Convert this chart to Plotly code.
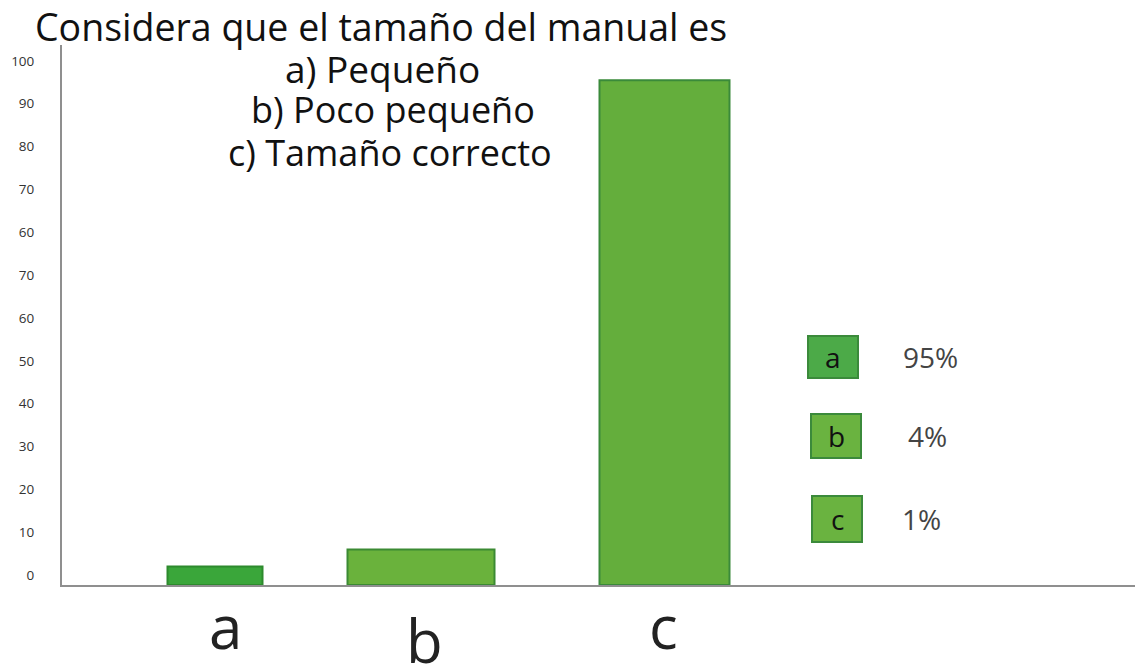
import plotly.graph_objects as go

# Survey answers and their plotted heights
categories = ["a", "b", "c"]
bar_values = [2, 6, 115.5]

# Y axis ticks as printed on the chart
y_tick_values = [0, 10, 20, 30, 40, 50, 60, 70, 80, 90, 100, 110, 120]
y_tick_labels = ["0", "10", "20", "30", "40", "50", "60", "70", "60", "70", "80", "90", "100"]

# Legend entries
legend_letters = ["a", "b", "c"]
legend_percents = ["95%", "4%", "1%"]

title_lines = [
    "Considera que el tamaño del manual es",
    "a) Pequeño",
    "b) Poco pequeño",
    "c) Tamaño correcto",
]

# Layout constants (x in axis units, one unit = 100 px of plot width)
BASELINE = -2.3
bar_centers = [1.53, 3.59, 6.025]
bar_widths = [0.95, 1.47, 1.30]
label_centers = [1.635, 3.62, 6.015]
label_mid_y = [626, 640, 626]
bar_fill = ["#3aa63a", "#6ab23c", "#64ae3c"]
bar_line = ["#2d8a2d", "#3b8a33", "#3a8a3a"]
FONT = "Open Sans"

L, T, W, H = 62, 45, 1073, 540  # plot area in pixels


def px_x(x):
    return (x - L) / W


def px_y(y):
    return (T + H - y) / H


fig = go.Figure()
fig.add_trace(go.Bar(
    x=bar_centers,
    y=[v - BASELINE for v in bar_values],
    base=BASELINE,
    width=bar_widths,
    marker=dict(color=bar_fill, line=dict(color=bar_line, width=2)),
    hoverinfo="skip",
    showlegend=False,
))

fig.update_layout(
    width=1135,
    height=666,
    margin=dict(l=L, r=0, t=T, b=666 - T - H),
    paper_bgcolor="white",
    plot_bgcolor="white",
    font=dict(family=FONT, color="#222"),
    xaxis=dict(
        range=[0, 10.73],
        automargin=False,
        showgrid=False,
        zeroline=False,
        showline=True,
        linecolor="#8f8f8f",
        linewidth=2,
        showticklabels=False,
        ticks="",
    ),
    yaxis=dict(
        range=[BASELINE, 123.7],
        automargin=False,
        showgrid=False,
        zeroline=False,
        showline=True,
        linecolor="#8f8f8f",
        linewidth=2,
        tickmode="array",
        tickvals=y_tick_values,
        ticktext=y_tick_labels,
        tickfont=dict(size=13.5, color="#333", family=FONT),
        ticks="",
        ticklabelstandoff=23,
    ),
)

# Category letters under the bars
for cat, cx, cy in zip(categories, label_centers, label_mid_y):
    fig.add_annotation(
        xref="x", yref="paper",
        x=cx, y=px_y(cy),
        xanchor="center", yanchor="middle",
        text=cat, showarrow=False,
        font=dict(size=60, color="#222", family=FONT),
    )

# Heading, one annotation per line
line_centers_x = [381, 382, 393, 390]
line_centers_y = [27, 68, 110, 153]
line_sizes = [37.5, 37, 36, 36]
for text, cx, cy, size in zip(title_lines, line_centers_x, line_centers_y, line_sizes):
    fig.add_annotation(
        xref="paper", yref="paper",
        x=px_x(cx), y=px_y(cy),
        xanchor="center", yanchor="middle",
        text=text, showarrow=False,
        font=dict(size=size, color="#111", family=FONT),
    )

# Legend boxes with letters and percentages
box_x = [(808, 858), (811, 861), (812, 862)]
box_y = [(336, 378), (414, 458), (496, 542)]
box_fill = ["#4caa48", "#6ab340", "#6ab340"]
pct_x = [930, 927, 921]
for (x0, x1), (y0, y1), fill, letter, pct, px in zip(
        box_x, box_y, box_fill, legend_letters, legend_percents, pct_x):
    fig.add_shape(
        type="rect", xref="paper", yref="paper",
        x0=px_x(x0), x1=px_x(x1),
        y0=px_y(y1), y1=px_y(y0),
        fillcolor=fill, line=dict(color="#3b8a3b", width=2),
    )
    fig.add_annotation(
        xref="paper", yref="paper",
        x=px_x((x0 + x1) / 2), y=px_y((y0 + y1) / 2),
        text=letter, showarrow=False,
        xanchor="center", yanchor="middle",
        font=dict(size=28, color="#111", family=FONT),
    )
    fig.add_annotation(
        xref="paper", yref="paper",
        x=px_x(px), y=px_y((y0 + y1) / 2),
        text=pct, showarrow=False,
        xanchor="center", yanchor="middle",
        font=dict(size=28, color="#444", family=FONT),
    )

fig.write_html("out.html")
